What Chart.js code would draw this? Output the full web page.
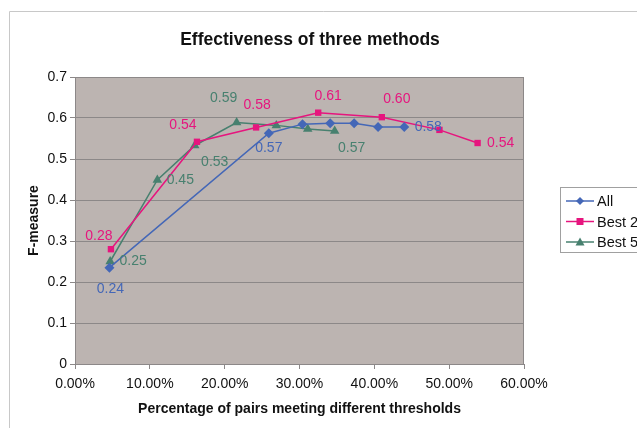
<!DOCTYPE html>
<html>
<head>
<meta charset="utf-8">
<script src="https://cdn.jsdelivr.net/npm/chart.js@4"></script>
<style>
  html, body { margin: 0; padding: 0; background: #fff; }
  canvas { display: block; }
</style>
</head>
<body>
<canvas id="chart-canvas" width="637" height="428"></canvas>
<script>
// values (x = share of pairs, y = F-measure)
var allX   = [0.046, 0.259, 0.304, 0.341, 0.373, 0.405, 0.440];
var allY   = [0.235, 0.563, 0.585, 0.587, 0.587, 0.578, 0.578];
var allLbl = ['0.24', '0.57', null, null, null, null, '0.58'];

var best2X   = [0.048, 0.163, 0.242, 0.325, 0.410, 0.487, 0.538];
var best2Y   = [0.280, 0.542, 0.577, 0.613, 0.602, 0.571, 0.539];
var best2Lbl = ['0.28', '0.54', '0.58', '0.61', '0.60', null, '0.54'];

var best5X   = [0.047, 0.110, 0.160, 0.216, 0.269, 0.311, 0.347];
var best5Y   = [0.250, 0.449, 0.533, 0.589, 0.582, 0.573, 0.568];
var best5Lbl = ['0.25', '0.45', '0.53', '0.59', null, null, '0.57'];

// where each value label sits relative to its point [dx, dy]
var allOff   = [[1, 21], [0, 15], null, null, null, null, [24, 0]];
var best2Off = [[-12, -13], [-14, -17], [1, -22], [10, -17], [15, -18], null, [23, 0]];
var best5Off = [[23, 0], [23, 0], [20, 17], [-13, -24], null, null, [17, 17]];

function pts(xs, ys) {
    return xs.map(function (x, i) { return {x: x, y: ys[i]}; });
}

var FONT = "'Liberation Sans', Arial, sans-serif";

var chartBox = {
    id: 'chartBox',
    beforeDraw: function (chart) {
        var ctx = chart.ctx, a = chart.chartArea;
        ctx.save();
        // outer frame of the excel chart object
        ctx.strokeStyle = '#c8c8c8';
        ctx.lineWidth = 1;
        ctx.beginPath();
        ctx.moveTo(9.5, 428);
        ctx.lineTo(9.5, 11.5);
        ctx.lineTo(637, 11.5);
        ctx.stroke();
        // plot area fill
        ctx.fillStyle = '#bcb4b1';
        ctx.fillRect(a.left, a.top, a.right - a.left, a.bottom - a.top);
        ctx.restore();
    },
    afterDraw: function (chart) {
        var ctx = chart.ctx, a = chart.chartArea;
        ctx.save();
        ctx.strokeStyle = '#8c8888';
        ctx.lineWidth = 1;
        ctx.strokeRect(a.left + 0.5, a.top + 0.5, a.right - a.left - 1, a.bottom - a.top);

        // title
        ctx.fillStyle = '#111';
        ctx.font = 'bold 17.5px ' + FONT;
        ctx.textAlign = 'center';
        ctx.textBaseline = 'middle';
        ctx.fillText('Effectiveness of three methods', 310, 40);

        // legend (cut off at the right edge like the original)
        ctx.fillStyle = '#fff';
        ctx.fillRect(560.5, 187.5, 90, 65);
        ctx.strokeStyle = '#a0a0a0';
        ctx.strokeRect(560.5, 187.5, 90, 65);
        ctx.font = '14.5px ' + FONT;
        ctx.textAlign = 'left';
        chart.data.datasets.forEach(function (ds, i) {
            var y = 201 + i * 20.5;
            ctx.strokeStyle = ds.borderColor;
            ctx.lineWidth = 1.5;
            ctx.beginPath();
            ctx.moveTo(566, y);
            ctx.lineTo(594, y);
            ctx.stroke();
            ctx.fillStyle = ds.backgroundColor;
            ctx.beginPath();
            if (ds.pointStyle === 'rectRot') {
                ctx.moveTo(580, y - 4); ctx.lineTo(584, y); ctx.lineTo(580, y + 4); ctx.lineTo(576, y);
            } else if (ds.pointStyle === 'rect') {
                ctx.rect(576.5, y - 3.5, 7, 7);
            } else {
                ctx.moveTo(580, y - 4.5); ctx.lineTo(584.5, y + 3.5); ctx.lineTo(575.5, y + 3.5);
            }
            ctx.closePath();
            ctx.fill();
            ctx.fillStyle = '#111';
            ctx.fillText(ds.label, 597, y + 1);
        });
        ctx.restore();
    },
    afterDatasetsDraw: function (chart) {
        var ctx = chart.ctx;
        ctx.save();
        ctx.font = '14px ' + FONT;
        ctx.textAlign = 'center';
        ctx.textBaseline = 'middle';
        chart.data.datasets.forEach(function (ds, i) {
            var meta = chart.getDatasetMeta(i);
            meta.data.forEach(function (p, j) {
                if (!ds.valueLabels[j]) return;
                var off = ds.labelOffsets[j];
                ctx.fillStyle = ds.borderColor;
                ctx.fillText(ds.valueLabels[j], p.x + off[0], p.y + off[1]);
            });
        });
        ctx.restore();
    }
};

new Chart(document.getElementById('chart-canvas'), {
    type: 'scatter',
    data: {
        datasets: [{
            label: 'All',
            data: pts(allX, allY),
            valueLabels: allLbl,
            labelOffsets: allOff,
            showLine: true,
            borderColor: '#4467b7',
            backgroundColor: '#4467b7',
            borderWidth: 1.5,
            pointStyle: 'rectRot',
            pointRadius: 5,
            pointBorderWidth: 0
        }, {
            label: 'Best 2',
            data: pts(best2X, best2Y),
            valueLabels: best2Lbl,
            labelOffsets: best2Off,
            showLine: true,
            borderColor: '#e6157e',
            backgroundColor: '#e6157e',
            borderWidth: 1.5,
            pointStyle: 'rect',
            pointRadius: 4.5,
            pointBorderWidth: 0
        }, {
            label: 'Best 5',
            data: pts(best5X, best5Y),
            valueLabels: best5Lbl,
            labelOffsets: best5Off,
            showLine: true,
            borderColor: '#47806f',
            backgroundColor: '#47806f',
            borderWidth: 1.5,
            pointStyle: 'triangle',
            pointRadius: 5.5,
            pointBorderWidth: 0
        }]
    },
    options: {
        responsive: false,
        animation: false,
        layout: { padding: { left: 20, top: 77, right: 113, bottom: 0 } },
        plugins: {
            legend: { display: false },
            title: { display: false },
            tooltip: { enabled: false }
        },
        scales: {
            x: {
                type: 'linear',
                min: 0,
                max: 0.6,
                afterFit: function (s) { s.height = 64; },
                border: { color: '#8c8888' },
                grid: { display: true, drawOnChartArea: false, color: '#8c8888', tickLength: 5 },
                ticks: {
                    stepSize: 0.1,
                    color: '#111',
                    font: { family: FONT, size: 14 },
                    padding: 7,
                    maxRotation: 0,
                    callback: function (v) { return (v * 100).toFixed(2) + '%'; }
                },
                title: {
                    display: true,
                    text: 'Percentage of pairs meeting different thresholds',
                    color: '#111',
                    font: { family: FONT, size: 14, weight: 'bold' },
                    padding: { top: 8, bottom: 10 }
                }
            },
            y: {
                min: 0,
                max: 0.7,
                afterFit: function (s) { s.width = 55; },
                border: { color: '#8c8888' },
                grid: { color: '#8c8888', tickLength: 5, drawTicks: true },
                ticks: {
                    stepSize: 0.1,
                    color: '#111',
                    font: { family: FONT, size: 14 },
                    padding: 3,
                    callback: function (v) { return v === 0 ? '0' : v.toFixed(1); }
                },
                title: {
                    display: true,
                    text: 'F-measure',
                    color: '#111',
                    font: { family: FONT, size: 14, weight: 'bold' },
                    padding: { top: 6, bottom: 0 }
                }
            }
        }
    },
    plugins: [chartBox]
});
</script>
</body>
</html>
